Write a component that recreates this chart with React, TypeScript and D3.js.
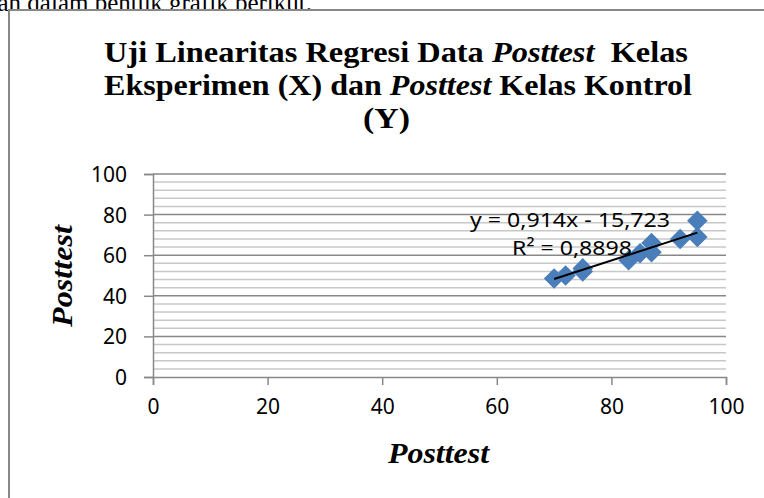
import React, { useEffect, useRef } from 'react';
import * as d3 from 'd3';

// posttest scores, eksperimen (x) vs kontrol (y)
const xValues = [70, 72, 75, 75, 83, 85, 87, 87, 92, 95, 95];
const yValues = [48.5, 50, 52, 53.5, 57.5, 61, 66, 61.5, 68, 77, 69];

// trendline reported by excel
const slope = 0.914;
const intercept = -15.723;
const equationLabel = 'y = 0,914x - 15,723';
const rSquaredLabel = 'R² = 0,8898';

const xTicks = [0, 20, 40, 60, 80, 100];
const yTicks = [0, 20, 40, 60, 80, 100];
const yMinorTicks = d3.range(0, 101, 4);

const titleLines = [
    [{ t: 'Uji Linearitas Regresi Data ', i: false }, { t: 'Posttest', i: true }, { t: '  Kelas', i: false }],
    [{ t: 'Eksperimen (X) dan ', i: false }, { t: 'Posttest', i: true }, { t: ' Kelas Kontrol', i: false }],
    [{ t: '(Y)', i: false }],
];
const axisTitle = 'Posttest';
const introText = 'disajikan dalam bentuk grafik berikut.';

function App() {
    const ref = useRef<SVGSVGElement>(null);

    useEffect(() => {
        drawChart();
    }, []);

    function drawChart() {
        const svg = d3.select(ref.current);
        svg.selectAll('*').remove();

        const serif = '"Liberation Serif", "Times New Roman", serif';
        const sans = '"Noto Sans", "Open Sans", sans-serif';

        // page text above the frame
        svg.append('text')
            .attr('x', 312).attr('y', 11)
            .attr('text-anchor', 'end')
            .attr('font-family', serif)
            .attr('font-size', 25)
            .text(introText);

        // chart frame
        svg.append('rect')
            .attr('x', 9).attr('y', 10)
            .attr('width', 800).attr('height', 520)
            .attr('fill', '#fff')
            .attr('stroke', '#888')
            .attr('stroke-width', 2);

        // title, three lines
        const titleLayout = [
            { x: 104, y: 62, len: 584 },
            { x: 104, y: 95, len: 588 },
            { x: 363, y: 128, len: 47 },
        ];
        titleLines.forEach((line, k) => {
            const t = svg.append('text')
                .attr('x', titleLayout[k].x).attr('y', titleLayout[k].y)
                .attr('font-family', serif)
                .attr('font-weight', 'bold')
                .attr('font-size', 30)
                .attr('textLength', titleLayout[k].len)
                .attr('lengthAdjust', 'spacingAndGlyphs')
                .style('white-space', 'pre');
            line.forEach(part => {
                t.append('tspan')
                    .attr('font-style', part.i ? 'italic' : 'normal')
                    .text(part.t);
            });
        });

        // scales
        const x = d3.scaleLinear().domain([0, 100]).range([153, 726]);
        const y = d3.scaleLinear().domain([0, 100]).range([377, 174]);

        // minor gridlines
        svg.append('g')
            .selectAll('line')
            .data(yMinorTicks.filter(v => v % 20 !== 0))
            .join('line')
            .attr('x1', x(0)).attr('x2', x(100))
            .attr('y1', d => y(d)).attr('y2', d => y(d))
            .attr('stroke', '#c8c8c8')
            .attr('stroke-width', 1.5);

        // major gridlines
        svg.append('g')
            .selectAll('line')
            .data(yTicks.filter(v => v > 0))
            .join('line')
            .attr('x1', x(0)).attr('x2', x(100))
            .attr('y1', d => y(d)).attr('y2', d => y(d))
            .attr('stroke', '#888')
            .attr('stroke-width', 1.5);

        // y axis
        const yAxis = svg.append('g')
            .attr('transform', 'translate(' + x(0) + ',0)')
            .call(d3.axisLeft(y).tickValues(yTicks).tickSize(9).tickPadding(17));
        yAxis.select('.domain').attr('stroke', '#888').attr('stroke-width', 1.5);
        yAxis.selectAll('.tick line').attr('stroke', '#888').attr('stroke-width', 1.5);
        yAxis.selectAll('text')
            .attr('font-family', sans).attr('font-size', 21).attr('fill', '#000')
            .attr('dy', '0.36em');

        // x axis
        const xAxis = svg.append('g')
            .attr('transform', 'translate(0,' + y(0) + ')')
            .call(d3.axisBottom(x).tickValues(xTicks).tickSize(8).tickPadding(14));
        xAxis.select('.domain').attr('stroke', '#888').attr('stroke-width', 1.5);
        xAxis.selectAll('.tick line').attr('stroke', '#888').attr('stroke-width', 1.5);
        xAxis.selectAll('text')
            .attr('font-family', sans).attr('font-size', 21).attr('fill', '#000');

        // axis titles
        svg.append('text')
            .attr('x', 388).attr('y', 463)
            .attr('font-family', serif)
            .attr('font-weight', 'bold').attr('font-style', 'italic')
            .attr('font-size', 30)
            .attr('textLength', 101)
            .attr('lengthAdjust', 'spacingAndGlyphs')
            .text(axisTitle);

        svg.append('text')
            .attr('transform', 'translate(72,327) rotate(-90)')
            .attr('font-family', serif)
            .attr('font-weight', 'bold').attr('font-style', 'italic')
            .attr('font-size', 30)
            .attr('textLength', 102)
            .attr('lengthAdjust', 'spacingAndGlyphs')
            .text(axisTitle);

        // data points as diamonds
        const points = xValues.map((v, i) => ({ x: v, y: yValues[i] }));
        const diamond = d3.symbol().type(d3.symbolDiamond2).size(270);
        svg.append('g')
            .selectAll('path')
            .data(points)
            .join('path')
            .attr('transform', d => 'translate(' + x(d.x) + ',' + y(d.y) + ')')
            .attr('d', diamond)
            .attr('fill', '#4a7ebb');

        // linear trendline over the data range
        const [x0, x1] = d3.extent(xValues) as [number, number];
        svg.append('line')
            .attr('x1', x(x0)).attr('y1', y(slope * x0 + intercept))
            .attr('x2', x(x1)).attr('y2', y(slope * x1 + intercept))
            .attr('stroke', '#000')
            .attr('stroke-width', 2);

        // trendline label
        svg.append('text')
            .attr('x', 470).attr('y', 227)
            .attr('font-family', sans).attr('font-size', 20)
            .attr('textLength', 200)
            .attr('lengthAdjust', 'spacingAndGlyphs')
            .text(equationLabel);
        svg.append('text')
            .attr('x', 512).attr('y', 255)
            .attr('font-family', sans).attr('font-size', 20)
            .attr('textLength', 120)
            .attr('lengthAdjust', 'spacingAndGlyphs')
            .text(rSquaredLabel);
    }

    return (
        <svg ref={ref} width={764} height={498}
            style={{ position: 'absolute', left: 0, top: 0, background: '#fff' }} />
    );
}

export default App;
